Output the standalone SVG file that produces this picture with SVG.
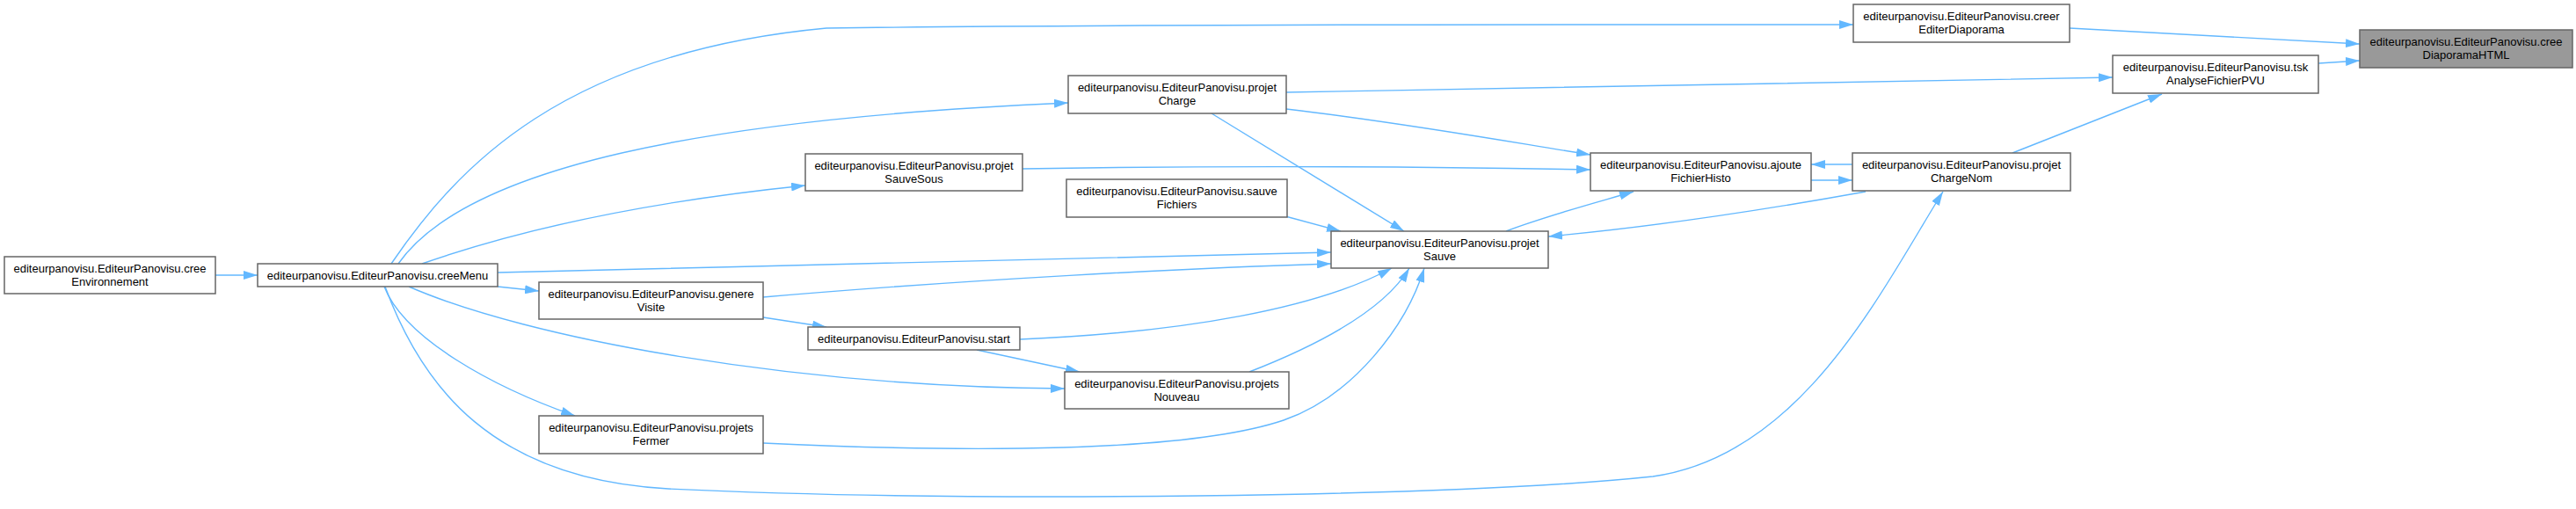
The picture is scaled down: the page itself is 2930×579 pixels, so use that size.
<svg xmlns="http://www.w3.org/2000/svg" width="2930" height="579" viewBox="0 0 2930 579">
<style>
.n rect{fill:#ffffff;stroke:#666666;stroke-width:1.5}
.n.focus rect{fill:#999999}
.n text{font-family:"Liberation Sans",Arial,sans-serif;font-size:13px;fill:#000000;text-anchor:middle}
.e path{fill:none;stroke:#63b8ff;stroke-width:1.4;marker-end:url(#ah)}
</style>
<defs>
<marker id="ah" markerUnits="userSpaceOnUse" markerWidth="16" markerHeight="10" refX="16" refY="5" orient="auto" viewBox="0 0 16 10">
<path d="M0,0 L16,5 L0,10 z" fill="#63b8ff"/>
</marker>
</defs>
<rect width="2930" height="579" fill="#ffffff"/>
<g id="connectors" class="e">
<path d="M245,313 L293,313"/>
<path d="M445,300 C520,190 640,60 940,32 C1300,27 1800,28 2108,28"/>
<path d="M453,300 C530,190 800,135 1215,117"/>
<path d="M480,300 C600,258 750,228 916,211"/>
<path d="M566,310 C900,302 1300,292 1514,287"/>
<path d="M566,326 L613,331"/>
<path d="M465,326 C600,385 900,440 1211,442"/>
<path d="M437,326 C460,385 560,440 654,473"/>
<path d="M438,326 C480,440 560,545 760,556 C1100,572 1650,566 1880,542 C2050,518 2140,330 2210,218"/>
<path d="M868,338 C1100,318 1350,305 1514,300"/>
<path d="M868,361 L940,372"/>
<path d="M1111,398 L1228,423"/>
<path d="M1160,386 C1350,378 1500,350 1583,305"/>
<path d="M1421,423 C1480,400 1570,360 1603,305"/>
<path d="M868,504 C1100,515 1350,515 1460,478 C1540,450 1600,370 1620,305"/>
<path d="M1378,129 L1597,263"/>
<path d="M1462,246 L1525,263"/>
<path d="M2122,218 C2000,240 1880,258 1761,269"/>
<path d="M1713,263 C1760,245 1810,232 1858,218"/>
<path d="M1463,124 C1600,140 1720,162 1809,176"/>
<path d="M1163,192 C1400,188 1650,190 1809,193"/>
<path d="M2107,187 L2060,187"/>
<path d="M2060,205 L2107,205"/>
<path d="M1463,105 C1800,99 2150,92 2403,88"/>
<path d="M2289,174 L2459,107"/>
<path d="M2354,32 L2684,50"/>
<path d="M2637,72 L2684,69"/>
</g>
<g id="creeEnvironnement" class="n"><rect x="5" y="292" width="240" height="42"/><text x="125" y="310">editeurpanovisu.EditeurPanovisu.cree</text><text x="125" y="325">Environnement</text></g>
<g id="creeMenu" class="n"><rect x="293" y="300" width="273" height="26"/><text x="429.5" y="318">editeurpanovisu.EditeurPanovisu.creeMenu</text></g>
<g id="projetCharge" class="n"><rect x="1215" y="86" width="248" height="43"/><text x="1339" y="104">editeurpanovisu.EditeurPanovisu.projet</text><text x="1339" y="119">Charge</text></g>
<g id="projetSauveSous" class="n"><rect x="916" y="175" width="247" height="42"/><text x="1039.5" y="193">editeurpanovisu.EditeurPanovisu.projet</text><text x="1039.5" y="208">SauveSous</text></g>
<g id="sauveFichiers" class="n"><rect x="1213" y="204" width="251" height="43"/><text x="1338.5" y="222">editeurpanovisu.EditeurPanovisu.sauve</text><text x="1338.5" y="237">Fichiers</text></g>
<g id="projetSauve" class="n"><rect x="1514" y="263" width="247" height="42"/><text x="1637.5" y="281">editeurpanovisu.EditeurPanovisu.projet</text><text x="1637.5" y="296">Sauve</text></g>
<g id="genereVisite" class="n"><rect x="613" y="321" width="255" height="42"/><text x="740.5" y="339">editeurpanovisu.EditeurPanovisu.genere</text><text x="740.5" y="354">Visite</text></g>
<g id="start" class="n"><rect x="919" y="372" width="241" height="26"/><text x="1039.5" y="390">editeurpanovisu.EditeurPanovisu.start</text></g>
<g id="projetsNouveau" class="n"><rect x="1211" y="423" width="255" height="42"/><text x="1338.5" y="441">editeurpanovisu.EditeurPanovisu.projets</text><text x="1338.5" y="456">Nouveau</text></g>
<g id="projetsFermer" class="n"><rect x="613" y="473" width="255" height="43"/><text x="740.5" y="491">editeurpanovisu.EditeurPanovisu.projets</text><text x="740.5" y="506">Fermer</text></g>
<g id="ajouteFichierHisto" class="n"><rect x="1809" y="174" width="251" height="43"/><text x="1934.5" y="192">editeurpanovisu.EditeurPanovisu.ajoute</text><text x="1934.5" y="207">FichierHisto</text></g>
<g id="projetChargeNom" class="n"><rect x="2107" y="174" width="248" height="43"/><text x="2231" y="192">editeurpanovisu.EditeurPanovisu.projet</text><text x="2231" y="207">ChargeNom</text></g>
<g id="creerEditerDiaporama" class="n"><rect x="2108" y="5" width="246" height="43"/><text x="2231" y="23">editeurpanovisu.EditeurPanovisu.creer</text><text x="2231" y="38">EditerDiaporama</text></g>
<g id="tskAnalyseFichierPVU" class="n"><rect x="2403" y="63" width="234" height="43"/><text x="2520" y="81">editeurpanovisu.EditeurPanovisu.tsk</text><text x="2520" y="96">AnalyseFichierPVU</text></g>
<g id="creeDiaporamaHTML" class="n focus"><rect x="2684" y="34" width="242" height="43"/><text x="2805" y="52">editeurpanovisu.EditeurPanovisu.cree</text><text x="2805" y="67">DiaporamaHTML</text></g>
</svg>
